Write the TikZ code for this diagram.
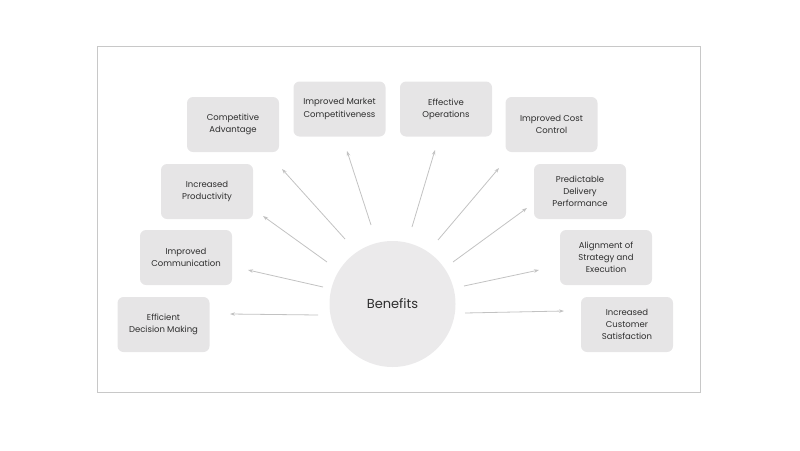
\documentclass[tikz,border=0pt]{standalone}
\usepackage{fontspec}
\setmainfont{Poppins}
\usetikzlibrary{arrows.meta,calc}
\definecolor{boxfill}{HTML}{E6E5E6}
\definecolor{circfill}{HTML}{EBEAEB}
\definecolor{framec}{HTML}{C8C8C8}
\definecolor{arrc}{HTML}{C2C2C2}
\definecolor{txt}{HTML}{2E2E2E}
\begin{document}
\begin{tikzpicture}[x=1pt,y=-1pt,
  benefit/.style={rectangle,rounded corners=6pt,fill=boxfill,minimum width=92pt,minimum height=55pt,
    align=center,text=txt,font=\fontsize{8.5}{12.2}\selectfont,inner sep=2pt},
  hub/.style={circle,fill=circfill,minimum size=126pt,inner sep=0pt,text=txt,font=\fontsize{13}{15}\selectfont},
  arr/.style={draw=arrc,line width=0.8pt,-{Stealth[length=5pt,width=3.5pt]}}]
\useasboundingbox (0,0) rectangle (800,450);
\draw[framec,line width=0.8pt] (97,46) rectangle (700,392);
\node[hub] (c) at (392.5,304) {Benefits};
\node[benefit] (ca) at (233,124.5) {Competitive\\Advantage};
\node[benefit] (imc) at (339.5,109) {Improved Market\\Competitiveness};
\node[benefit] (eo) at (446,109) {Effective\\Operations};
\node[benefit] (icc) at (551.5,124.5) {Improved Cost\\Control};
\node[benefit] (ip) at (207,191.5) {Increased\\Productivity};
\node[benefit] (pdp) at (580,191.5) {Predictable\\Delivery\\Performance};
\node[benefit] (ic) at (186,257.5) {Improved\\Communication};
\node[benefit] (ase) at (606,257.5) {Alignment of\\Strategy and\\Execution};
\node[benefit] (edm) at (163.5,324.5) {Efficient\\Decision Making};
\node[benefit] (ics) at (627,324.5) {Increased\\Customer\\Satisfaction};
\draw[arr] ($(c)+(-74.5,11)$) -- ($(edm)+(66.5,-10.5)$);
\draw[arr] ($(c)+(-69.5,-17)$) -- ($(ic)+(62,12.5)$);
\draw[arr] ($(c)+(-65.5,-42)$) -- ($(ip)+(56,24.5)$);
\draw[arr] ($(c)+(-47.5,-65)$) -- ($(ca)+(49,44.5)$);
\draw[arr] ($(c)+(-21.5,-79)$) -- ($(imc)+(7.5,42)$);
\draw[arr] ($(c)+(19.5,-77)$) -- ($(eo)+(-11,41)$);
\draw[arr] ($(c)+(45.5,-64)$) -- ($(icc)+(-52.5,43.5)$);
\draw[arr] ($(c)+(60.5,-42)$) -- ($(pdp)+(-53,16.5)$);
\draw[arr] ($(c)+(71.5,-18)$) -- ($(ase)+(-67,12.5)$);
\draw[arr] ($(c)+(72.5,9)$) -- ($(ics)+(-63,-13.5)$);
\end{tikzpicture}
\end{document}
